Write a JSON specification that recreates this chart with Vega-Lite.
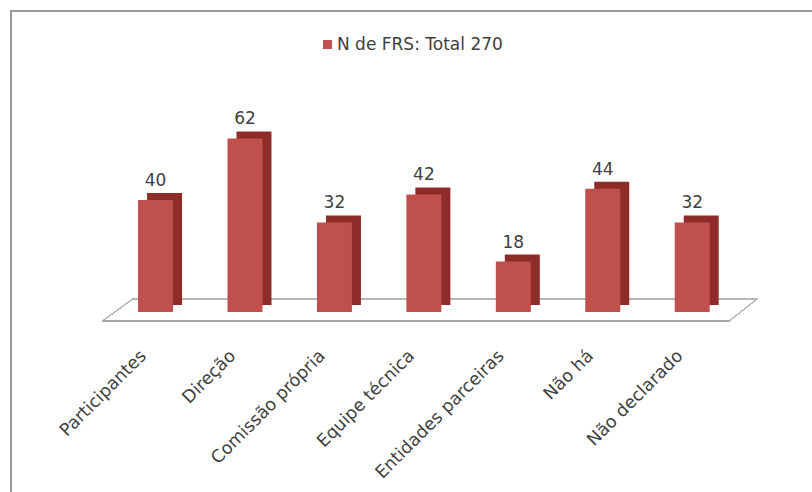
{
  "$schema": "https://vega.github.io/schema/vega-lite/v6.json",
  "autosize": {"type": "none"},
  "padding": {"left": 11, "top": 11, "right": 0, "bottom": 0},
  "width": 805,
  "height": 490,
  "background": "white",
  "title": {
    "text": "FRS 2011-2013",
    "anchor": "start",
    "frame": "group",
    "orient": "top",
    "baseline": "alphabetic",
    "offset": 0,
    "dx": -1,
    "font": "Liberation Serif",
    "fontSize": 21,
    "fontWeight": "bold",
    "color": "#111111"
  },
  "config": {
    "view": {"stroke": "#9a9a9a", "strokeWidth": 2},
    "font": "DejaVu Sans"
  },
  "data": {
    "values": [
      {"categoria": "Participantes", "n": 40},
      {"categoria": "Direção", "n": 62},
      {"categoria": "Comissão própria", "n": 32},
      {"categoria": "Equipe técnica", "n": 42},
      {"categoria": "Entidades parceiras", "n": 18},
      {"categoria": "Não há", "n": 44},
      {"categoria": "Não declarado", "n": 32}
    ]
  },
  "encoding": {
    "x": {
      "field": "categoria",
      "type": "nominal",
      "sort": null,
      "scale": {
        "domain": ["Participantes", "Direção", "Comissão própria", "Equipe técnica", "Entidades parceiras", "Não há", "Não declarado"],
        "paddingInner": 0, "paddingOuter": 1.008, "align": 0.558
      },
      "axis": {
        "title": null,
        "orient": "bottom",
        "offset": -148,
        "domain": false,
        "ticks": false,
        "labelAngle": -45,
        "labelAlign": "right",
        "labelBaseline": "middle",
        "labelPadding": 0,
        "labelOffset": -12,
        "labelFont": "DejaVu Sans",
        "labelFontSize": 17.5,
        "labelColor": "#404040",
        "labelLimit": 300
      }
    },
    "y": {
      "field": "n",
      "type": "quantitative",
      "scale": {"domain": [-67.5, 107.5], "nice": false, "zero": false},
      "axis": null
    }
  },
  "layer": [
    {
      "mark": {"type": "rule", "color": "#a6a6a6", "strokeWidth": 1.5, "xOffset": -53, "x2Offset": 37, "yOffset": 9},
      "encoding": {
        "x": {"datum": "Participantes", "type": "nominal"},
        "x2": {"datum": "Não declarado"},
        "y": {"datum": 0, "type": "quantitative"}
      }
    },
    {
      "mark": {"type": "rule", "color": "#b5b5b5", "strokeWidth": 1, "xOffset": -23, "x2Offset": 65, "yOffset": -13},
      "encoding": {
        "x": {"datum": "Participantes", "type": "nominal"},
        "x2": {"datum": "Não declarado"},
        "y": {"datum": 0, "type": "quantitative"}
      }
    },
    {
      "mark": {"type": "rule", "color": "#b5b5b5", "strokeWidth": 1, "xOffset": -53, "x2Offset": -23, "yOffset": 9, "y2Offset": -13},
      "encoding": {
        "x": {"datum": "Participantes", "type": "nominal"},
        "x2": {"datum": "Participantes"},
        "y": {"datum": 0, "type": "quantitative"},
        "y2": {"datum": 0}
      }
    },
    {
      "mark": {"type": "rule", "color": "#b5b5b5", "strokeWidth": 1, "xOffset": 37, "x2Offset": 65, "yOffset": 9, "y2Offset": -13},
      "encoding": {
        "x": {"datum": "Não declarado", "type": "nominal"},
        "x2": {"datum": "Não declarado"},
        "y": {"datum": 0, "type": "quantitative"},
        "y2": {"datum": 0}
      }
    },
    {
      "mark": {"type": "bar", "width": 35, "color": "#8e2c2a", "xOffset": 9, "yOffset": -7, "y2Offset": -7},
      "encoding": {"y2": {"datum": 0}}
    },
    {
      "mark": {"type": "bar", "width": 35},
      "encoding": {
        "y2": {"datum": 0},
        "color": {
          "datum": "N de FRS: Total 270",
          "type": "nominal",
          "scale": {"range": ["#c0504d"]},
          "legend": {
            "title": null,
            "orient": "none",
            "legendX": 308,
            "legendY": 25,
            "symbolType": "square",
            "symbolSize": 81,
            "symbolStrokeWidth": 0,
            "labelFont": "DejaVu Sans",
            "labelFontSize": 17,
            "labelColor": "#404040",
            "labelOffset": 1,
            "labelLimit": 400
          }
        }
      }
    },
    {
      "mark": {"type": "text", "baseline": "alphabetic", "dy": -14, "font": "DejaVu Sans", "fontSize": 17, "color": "#404040"},
      "encoding": {"text": {"field": "n", "type": "quantitative"}}
    }
  ]
}
